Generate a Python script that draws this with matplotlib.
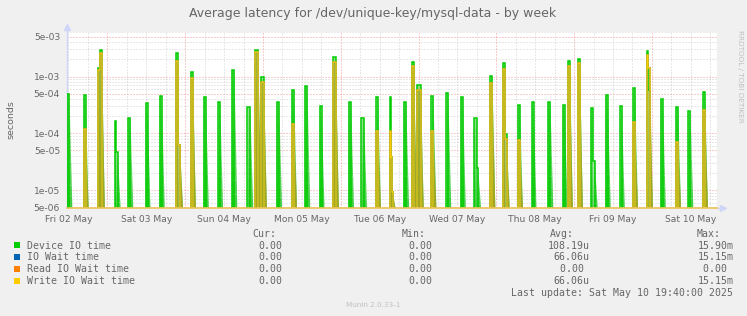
import numpy as np
import matplotlib
matplotlib.use("Agg")
import matplotlib.pyplot as plt
from matplotlib.patches import Rectangle
from matplotlib.collections import PolyCollection
from matplotlib.colors import to_rgb

# ---------------- data ----------------
title = "Average latency for /dev/unique-key/mysql-data - by week"
day_labels = ["Fri 02 May", "Sat 03 May", "Sun 04 May", "Mon 05 May", "Tue 06 May",
              "Wed 07 May", "Thu 08 May", "Fri 09 May", "Sat 10 May"]
ytick_vals = [5e-6, 1e-5, 5e-5, 1e-4, 5e-4, 1e-3, 5e-3]
ytick_labels = ["5e-06", "1e-05", "5e-05", "1e-04", "5e-04", "1e-03", "5e-03"]

# active intervals (hours since Fri 02 May 00:00); values in seconds (0 = idle)
seg_start = [-0.46, 4.7, 9.0, 9.7, 14.3, 14.65, 18.4, 23.8, 28.1, 33.1, 33.9, 37.7,
             41.7, 46.2, 50.4, 55.2, 57.7, 59.3, 64.2, 68.9, 72.9, 77.5, 81.7, 86.4,
             90.4, 95.0, 99.1, 99.5, 99.8, 103.4, 105.9, 107.4, 112.0, 116.6, 121.0,
             125.2, 125.9, 130.2, 134.1, 134.8, 138.6, 143.0, 147.9, 152.5, 154.2,
             157.2, 161.2, 161.9, 165.7, 170.3, 174.3, 178.4, 178.9, 182.7, 187.4,
             191.2, 195.8]
seg_end = [0.3, 5.3, 9.7, 10.3, 14.65, 15.2, 19.1, 24.4, 28.8, 33.9, 34.4, 38.4,
           42.4, 46.8, 51.2, 56.1, 58.55, 60.3, 65.0, 69.6, 73.7, 78.1, 82.5, 87.2,
           91.2, 95.5, 99.5, 99.8, 100.0, 104.2, 106.6, 108.7, 112.6, 117.2, 121.7,
           125.9, 126.4, 130.8, 134.8, 135.2, 139.3, 143.5, 148.7, 153.1, 154.7,
           157.8, 161.9, 162.4, 166.4, 170.75, 174.8, 178.9, 179.4, 183.4, 188.1,
           191.9, 196.4]
device_io = [5.0e-4, 4.7e-4, 1.4e-3, 2.9e-3, 1.66e-4, 4.7e-5, 1.9e-4, 3.4e-4, 4.5e-4,
             2.6e-3, 6.2e-5, 1.18e-3, 4.4e-4, 3.5e-4, 1.3e-3, 2.9e-4, 2.93e-3, 1.0e-3,
             3.5e-4, 5.9e-4, 6.8e-4, 3.0e-4, 2.2e-3, 3.5e-4, 1.9e-4, 4.4e-4, 4.4e-4,
             3.9e-5, 9.4e-6, 3.6e-4, 1.82e-3, 7.1e-4, 4.5e-4, 5.2e-4, 4.4e-4, 1.88e-4,
             2.5e-5, 1.02e-3, 1.7e-3, 9.7e-5, 3.1e-4, 3.6e-4, 3.5e-4, 3.1e-4, 1.9e-3,
             2.0e-3, 2.8e-4, 3.2e-5, 4.7e-4, 3.0e-4, 6.2e-4, 2.85e-3, 5.8e-4, 4.0e-4,
             2.9e-4, 2.5e-4, 5.4e-4]
write_wait = [0, 1.2e-4, 1.3e-3, 2.56e-3, 0, 0, 0, 0, 0, 1.9e-3, 6.2e-5, 9.3e-4,
              0, 0, 0, 0, 2.7e-3, 8.1e-4, 0, 1.46e-4, 0, 0, 1.8e-3, 0,
              0, 1.1e-4, 1.1e-4, 3.9e-5, 9.4e-6, 0, 1.53e-3, 5.8e-4, 1.1e-4, 0, 0,
              0, 0, 7.6e-4, 1.34e-3, 7.8e-5, 7.6e-5, 0, 0, 0, 1.53e-3,
              1.7e-3, 0, 0, 0, 0, 1.6e-4, 2.4e-3, 1.4e-3, 0, 7.1e-5,
              0, 2.6e-4]
io_wait = list(write_wait)          # identical to write wait (see legend stats)
read_wait = [0.0] * len(seg_start)

legend_names = ["Device IO time", "IO Wait time", "Read IO Wait time", "Write IO Wait time"]
legend_colors = ["#00CC00", "#0066B3", "#FF8000", "#FFCC00"]
cur_vals = ["0.00", "0.00", "0.00", "0.00"]
min_vals = ["0.00", "0.00", "0.00", "0.00"]
avg_vals = ["108.19u", "66.06u", "0.00 ", "66.06u"]
max_vals = ["15.90m", "15.15m", "0.00 ", "15.15m"]
last_update = "Last update: Sat May 10 19:40:00 2025"
munin_ver = "Munin 2.0.33-1"

# ---------------- figure ----------------
W, H = 747, 316
fig = plt.figure(figsize=(W / 100, H / 100), dpi=100, facecolor="#F0F0F0")
L, R, T, B = 67, 716.7, 32.7, 208.3
ax = fig.add_axes([L / W, 1 - B / H, (R - L) / W, (B - T) / H], facecolor="white")
ax.set_yscale("log")
XMIN, XMAX = -0.46, 200.0
YMIN, YMAX = 4.8e-6, 5.9e-3
ax.set_xlim(XMIN, XMAX)
ax.set_ylim(YMIN, YMAX)
ax.set_autoscale_on(False)

FONT = "#666666"
GRID_MINOR = (0.56, 0.56, 0.56, 0.40)
GRID_MAJOR = (0.89, 0.03, 0.0, 0.40)
DOT = (0, (1, 2))

# grid
for h in np.arange(0, XMAX, 6):
    col = GRID_MAJOR if (h % 24) == 12 else GRID_MINOR
    ax.axvline(h, color=col, lw=0.72, ls=DOT, zorder=0.5)
for k in range(-6, -2):
    for m in range(1, 10):
        v = m * 10.0 ** k
        if YMIN < v < YMAX:
            col = GRID_MAJOR if m in (1, 5) else GRID_MINOR
            ax.axhline(v, color=col, lw=0.72, ls=DOT, zorder=0.5)


def groups(vals):
    out, cur = [], None
    for s, e, v in zip(seg_start, seg_end, vals):
        if v <= 0:
            continue
        if cur is not None and abs(s - cur[-1][1]) < 1e-6:
            cur.append((s, e, v))
        else:
            cur = [(s, e, v)]
            out.append(cur)
    return out


TAIL = 0.9
FLOOR = 1e-9
NB = 10


def band_fill(g, color, a_top, a_bot, z):
    """Gradient haze under a spike group: horizontal bands, log-spaced."""
    polys, cols = [], []
    rgb = to_rgb(color)
    last = len(g) - 1
    for j, (s, e, v) in enumerate(g):
        edges = np.geomspace(v, YMIN, NB + 1)
        for i in range(NB):
            t0, t1 = i / NB, (i + 1) / NB
            y0, y1 = edges[i], edges[i + 1]
            r0 = e + (TAIL * t0 if j == last else 0)
            r1 = e + (TAIL * t1 if j == last else 0)
            polys.append([(s, y0), (r0, y0), (r1, y1), (s, y1)])
            a = a_top + (a_bot - a_top) * (t0 + t1) / 2
            cols.append((*rgb, a))
    pc = PolyCollection(polys, facecolors=cols, edgecolors="none", zorder=z,
                        antialiased=True)
    ax.add_collection(pc)


def draw_series(vals, color, fill_color=None, a_top=0.2, a_bot=0.8, zf=1.0, zl=2.0):
    for g in groups(vals):
        xs, ys = [g[0][0]], [FLOOR]
        for s, e, v in g:
            xs += [s, e]
            ys += [v, v]
        xs.append(g[-1][1])
        ys.append(FLOOR)
        ax.plot(xs, ys, color=color, lw=1.1, zorder=zl, solid_joinstyle="miter")
        if fill_color is not None:
            band_fill(g, fill_color, a_top, a_bot, zf)


draw_series(device_io, legend_colors[0], "#3acc3a", 0.55, 0.97, zf=1.0, zl=2.0)
draw_series(io_wait, legend_colors[1], None, zl=2.1)
draw_series(read_wait, legend_colors[2], None, zl=2.2)
draw_series(write_wait, legend_colors[3], "#a8a422", 0.7, 0.97, zf=1.1, zl=2.3)

# zero baseline (all series at 0 drawn at bottom, write on top)
ax.axhline(YMIN, color="#EDC45A", lw=1.2, zorder=3, clip_on=False)

# axes decoration
for sp in ax.spines.values():
    sp.set_visible(False)
AXC = "#CFD6F8"
ax.plot([0, 0], [0, 1.025], transform=ax.transAxes, color=AXC, lw=1, clip_on=False, zorder=0.6)
ax.plot([0], [1.03], transform=ax.transAxes, marker="^", ms=4, color=AXC, clip_on=False, mec=AXC)
ax.plot([1.0, 1.008], [0, 0], transform=ax.transAxes, color=AXC, lw=1, clip_on=False)
ax.plot([1.01], [0], transform=ax.transAxes, marker=">", ms=4, color=AXC, clip_on=False, mec=AXC)

ax.set_xticks([24 * i for i in range(len(day_labels))])
ax.set_xticklabels(day_labels)
ax.set_yticks(ytick_vals)
ax.set_yticklabels(ytick_labels)
ax.yaxis.set_minor_locator(matplotlib.ticker.NullLocator())
ax.tick_params(axis="both", length=0, labelsize=6.6, labelcolor=FONT)
ax.tick_params(axis="x", pad=5)
ax.tick_params(axis="y", pad=5)

# texts
def ft(x, y, s, **kw):
    fig.text(x / W, 1 - y / H, s, **kw)

ft(373, 13, title, ha="center", va="center", fontsize=9, color=FONT)
ft(11, 120, "seconds", rotation=90, ha="center", va="center", fontsize=6.8, color=FONT)
ft(740, 30, "RRDTOOL / TOBI OETIKER", rotation=270, ha="center", va="top", fontsize=5.2,
   color="#C0C0C0")

MONO = "DejaVu Sans Mono"
LS = 7.1
ft(252, 234, "Cur:", ha="left", va="center", fontsize=LS, family=MONO, color=FONT)
ft(401.7, 234, "Min:", ha="left", va="center", fontsize=LS, family=MONO, color=FONT)
ft(550, 234, "Avg:", ha="left", va="center", fontsize=LS, family=MONO, color=FONT)
ft(696.7, 234, "Max:", ha="left", va="center", fontsize=LS, family=MONO, color=FONT)
rows_y = [245.7, 257.5, 269.3, 281.1]
for i, y in enumerate(rows_y):
    fig.add_artist(Rectangle(((14) / W, 1 - (y + 2.7) / H), 6 / W, 6 / H,
                             transform=fig.transFigure, fc=legend_colors[i], ec="none"))
    ft(26.7, y, legend_names[i], ha="left", va="center", fontsize=LS, family=MONO, color=FONT)
    ft(282.5, y, cur_vals[i], ha="right", va="center", fontsize=LS, family=MONO, color=FONT)
    ft(432, y, min_vals[i], ha="right", va="center", fontsize=LS, family=MONO, color=FONT)
    ft(589.5, y, avg_vals[i], ha="right", va="center", fontsize=LS, family=MONO, color=FONT)
    ft(733.3, y, max_vals[i], ha="right", va="center", fontsize=LS, family=MONO, color=FONT)
ft(733.3, 293.5, last_update, ha="right", va="center", fontsize=LS, family=MONO, color=FONT)
ft(373, 305, munin_ver, ha="center", va="center", fontsize=5.2, color="#C0C0C0")

fig.savefig("out.png", dpi=100, facecolor=fig.get_facecolor())
